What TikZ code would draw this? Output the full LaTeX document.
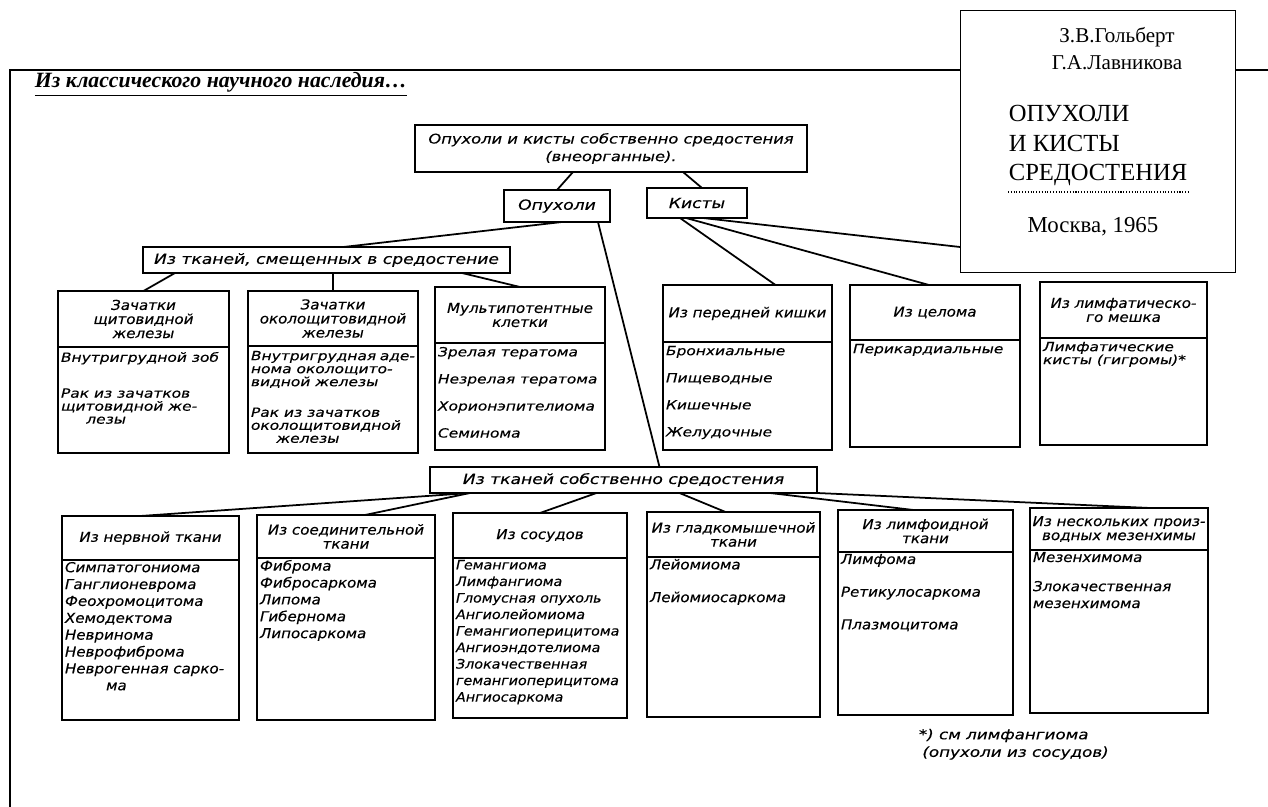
\documentclass[tikz,border=0pt]{standalone}
\usepackage{fontspec}
\setmainfont{Liberation Serif}
\newfontfamily\drafting{DejaVu Sans}[FakeStretch=1.1, FakeBold=0.3]
\newfontfamily\draftwide{DejaVu Sans}[FakeStretch=1.22, FakeBold=0.3]
\usetikzlibrary{positioning}

\newdimen\pxu \pxu=0.02cm
\newcommand{\listbox}[3]{\parbox[t][#2\pxu][t]{#1\pxu}{#3}}
\newcommand{\headfont}{\drafting\itshape\fontsize{7.8}{8}\selectfont}
\newcommand{\widehead}{\draftwide\itshape\fontsize{8}{10}\selectfont}
\newcommand{\smallhand}{\draftwide\itshape\fontsize{7.2}{7.4}\selectfont}
\newcommand{\bighand}{\drafting\itshape\fontsize{7.8}{9.6}\selectfont}

\begin{document}
\begin{tikzpicture}[x=0.02cm, y=-0.02cm, line width=1pt,
    head/.style={draw, align=center, inner sep=1pt, outer sep=0pt, font=\headfont},
    lst/.style={draw, inner xsep=3\pxu, inner ysep=2\pxu, outer sep=0pt, below=0pt of #1}]
            \useasboundingbox (0,0) rectangle (1268,807);

            % frame and title
            \draw (10,807) -- (10,70) -- (1268,70);
            \node[anchor=base west, inner sep=0pt, font=\bfseries\itshape\fontsize{12.4}{15}\selectfont] (title) at (34,88) {\underline{Из классического научного наследия…}};

            % upper levels
            \node[head, minimum width=392\pxu, minimum height=47\pxu, font=\widehead\fontsize{7.6}{10}\selectfont] (srd) at (611,148.5) {Опухоли и кисты собственно средостения\\(внеорганные).};
            \node[head, minimum width=106\pxu, minimum height=32\pxu, font=\widehead] (opuh) at (557,206) {Опухоли};
            \node[head, minimum width=100\pxu, minimum height=30\pxu, font=\widehead] (kist) at (697,203) {Кисты};
            \node[head, minimum width=367\pxu, minimum height=26\pxu, font=\widehead] (smesh) at (326.5,260) {Из тканей, смещенных в средостение};
            \node[head, minimum width=387\pxu, minimum height=26\pxu, font=\widehead] (sobst) at (623.5,480) {Из тканей собственно средостения};

            % tissues displaced into the mediastinum
            \node[head, minimum width=171\pxu, minimum height=56\pxu] (zat1) at (143.5,319) {Зачатки\\щитовидной\\железы};
            \node[lst=zat1, font=\smallhand] (zat1-l) {\listbox{165}{102}{\vspace*{3\pxu}Внутригрудной зоб\\[13pt]Рак из зачатков\\щитовидной же-\\\hspace*{2em}лезы}};
            \node[head, minimum width=170\pxu, minimum height=55\pxu] (zat2) at (333,318.5) {Зачатки\\околощитовидной\\железы};
            \node[lst=zat2, font=\smallhand] (zat2-l) {\listbox{164}{103}{\vspace*{3\pxu}Внутригрудная аде-\\нома околощито-\\видной железы\\[10pt]Рак из зачатков\\околощитовидной\\\hspace*{2em}железы}};
            \node[head, minimum width=170\pxu, minimum height=56\pxu] (multi) at (520,315) {Мультипотентные\\клетки};
            \node[lst=multi, font=\smallhand] (multi-l) {\listbox{164}{103}{\vspace*{2\pxu}Зрелая тератома\\[8pt]Незрелая тератома\\[8pt]Хорионэпителиома\\[8pt]Семинома}};

            % cysts
            \node[head, minimum width=169\pxu, minimum height=57\pxu] (kish) at (747.5,313.5) {Из передней кишки};
            \node[lst=kish, font=\smallhand] (kish-l) {\listbox{163}{104}{\vspace*{2\pxu}Бронхиальные\\[8pt]Пищеводные\\[8pt]Кишечные\\[8pt]Желудочные}};
            \node[head, minimum width=170\pxu, minimum height=55\pxu] (celom) at (935,312.5) {Из целома};
            \node[lst=celom, font=\smallhand] (celom-l) {\listbox{164}{103}{\vspace*{2\pxu}Перикардиальные}};
            \node[head, minimum width=167\pxu, minimum height=56\pxu] (lymph) at (1123.5,310) {Из лимфатическо-\\го мешка};
            \node[lst=lymph, font=\smallhand] (lymph-l) {\listbox{161}{103}{\vspace*{2\pxu}Лимфатические\\кисты (гигромы)*}};

            % tissues of the mediastinum proper
            \node[head, minimum width=177\pxu, minimum height=44\pxu] (nerv) at (150.5,538) {Из нервной ткани};
            \node[lst=nerv, font=\bighand] (nerv-l) {\listbox{171}{156}{Симпатогониома\\Ганглионеврома\\Феохромоцитома\\Хемодектома\\Невринома\\Неврофиброма\\Неврогенная сарко-\\\hspace*{3em}ма}};
            \node[head, minimum width=178\pxu, minimum height=43\pxu] (soed) at (346,536.5) {Из соединительной\\ткани};
            \node[lst=soed, font=\bighand] (soed-l) {\listbox{172}{158}{Фиброма\\Фибросаркома\\Липома\\Гибернома\\Липосаркома}};
            \node[head, minimum width=174\pxu, minimum height=45\pxu] (sos) at (540,535.5) {Из сосудов};
            \node[lst=sos, font=\bighand\fontsize{7.4}{9.4}\selectfont] (sos-l) {\listbox{168}{156}{Гемангиома\\Лимфангиома\\Гломусная опухоль\\Ангиолейомиома\\Гемангиоперицитома\\Ангиоэндотелиома\\Злокачественная\\гемангиоперицитома\\Ангиосаркома}};
            \node[head, minimum width=173\pxu, minimum height=45\pxu] (glad) at (733.5,534.5) {Из гладкомышечной\\ткани};
            \node[lst=glad, font=\bighand] (glad-l) {\listbox{167}{156}{Лейомиома\\[9pt]Лейомиосаркома}};
            \node[head, minimum width=175\pxu, minimum height=42\pxu] (limf) at (925.5,531) {Из лимфоидной\\ткани};
            \node[lst=limf, font=\bighand] (limf-l) {\listbox{169}{159}{Лимфома\\[9pt]Ретикулосаркома\\[9pt]Плазмоцитома}};
            \node[head, minimum width=178\pxu, minimum height=42\pxu] (mez) at (1119,529) {Из нескольких произ-\\водных мезенхимы};
            \node[lst=mez, font=\bighand] (mez-l) {\listbox{172}{159}{Мезенхимома\\[7pt]Злокачественная\\мезенхимома}};

            \node[anchor=north west, align=left, inner sep=0pt, font=\widehead\fontsize{7.8}{10}\selectfont] (note) at (918,728) {*) см лимфангиома\\\hspace*{2pt}(опухоли из сосудов)};

            % connectors
            \coordinate (kist-end) at (960,247);
            \draw ([xshift=-38\pxu]srd.south) -- (opuh.north);
            \draw ([xshift=72\pxu]srd.south) -- ([xshift=5\pxu]kist.north);
            \draw ([xshift=5\pxu]opuh.south) -- ([xshift=17\pxu]smesh.north);
            \draw ([xshift=41\pxu]opuh.south) -- ([xshift=36\pxu]sobst.north);
            \draw ([xshift=-17\pxu]kist.south) -- ([xshift=28\pxu]kish.north);
            \draw ([xshift=-11\pxu]kist.south) -- ([xshift=-6\pxu]celom.north);
            \draw ([xshift=6\pxu]kist.south) -- (kist-end);
            \draw ([xshift=32\pxu]smesh.south west) -- (zat1.north);
            \draw (smesh.south -| zat2.north) -- (zat2.north);
            \draw ([xshift=-48\pxu]smesh.south east) -- (multi.north);
            \draw ([xshift=40\pxu]sobst.south west) -- ([xshift=-10\pxu]nerv.north);
            \draw ([xshift=40\pxu]sobst.south west) -- ([xshift=19\pxu]soed.north);
            \draw ([xshift=-27\pxu]sobst.south) -- (sos.north);
            \draw ([xshift=56\pxu]sobst.south) -- ([xshift=-8\pxu]glad.north);
            \draw ([xshift=-47\pxu]sobst.south east) -- ([xshift=-12\pxu]limf.north);
            \draw (sobst.south east) -- ([xshift=31\pxu]mez.north);

            % book card
            \node[draw, fill=white, line width=0.8pt, anchor=north west, minimum width=275\pxu, minimum height=262\pxu, inner sep=0pt] (book) at (960,10) {};
            \node[align=center, font=\fontsize{12}{15.4}\selectfont] (authors) at (1117,49) {З.В.Гольберт\\Г.А.Лавникова};
            \node[anchor=north west, align=left, inner sep=0pt, font=\fontsize{14}{17}\selectfont] (booktitle) at (1008,104) {ОПУХОЛИ\\И КИСТЫ\\СРЕДОСТЕНИЯ};
            \draw[densely dotted, line width=0.6pt] (1008,192) -- (1188,192);
            \node[font=\fontsize{13}{15}\selectfont] (city) at (1093,227) {Москва, 1965};
        \end{tikzpicture}
\end{document}
